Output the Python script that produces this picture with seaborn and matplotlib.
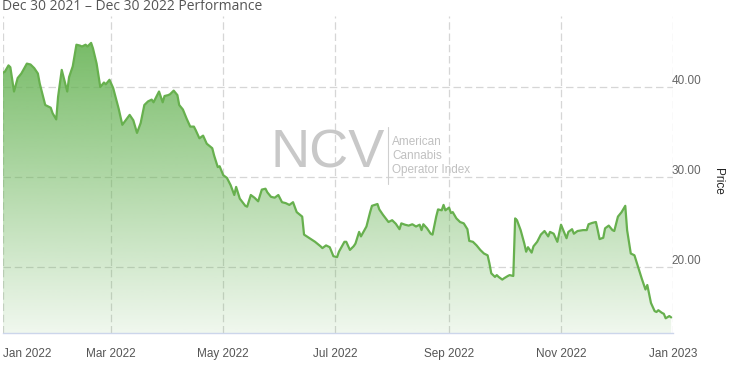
import numpy as np
import pandas as pd
import matplotlib
matplotlib.use("Agg")
import matplotlib.pyplot as plt
import matplotlib.dates as mdates
import seaborn as sns

# ---------------- data ----------------
title_text = "Dec 30 2021 \u2013 Dec 30 2022 Performance"
day_offsets = [0, 1, 3, 4, 6, 8, 10, 13, 15, 17, 19, 20, 23, 26, 27, 29, 30, 32, 33, 35,
               36, 38, 40, 42, 43, 45, 46, 48, 49, 51, 53, 55, 56, 58, 60, 63, 65, 69, 71, 73,
               75, 77, 79, 81, 82, 84, 85, 87, 88, 90, 91, 93, 95, 96, 98, 100, 102, 104, 105, 107,
               109, 111, 114, 115, 117, 118, 120, 122, 124, 126, 127, 129, 132, 133, 135, 137, 139, 141, 143, 144,
               146, 148, 150, 152, 154, 156, 158, 160, 163, 164, 167, 170, 173, 174, 176, 178, 180, 182, 183, 186,
               187, 189, 191, 192, 194, 195, 198, 200, 201, 204, 205, 207, 210, 212, 214, 216, 217, 219, 221, 223,
               225, 227, 228, 229, 231, 233, 234, 236, 237, 239, 240, 241, 243, 244, 245, 247, 249, 251, 253, 254,
               256, 258, 260, 262, 264, 265, 266, 268, 269, 270, 272, 273, 275, 276, 278, 279, 280, 282, 284, 285,
               286, 288, 289, 291, 293, 295, 297, 298, 300, 302, 304, 305, 307, 308, 310, 311, 313, 316, 318, 319,
               321, 323, 324, 325, 327, 328, 330, 332, 333, 335, 337, 339, 340, 342, 344, 346, 348, 350, 351, 353,
               355, 356, 357, 359, 360, 361, 363, 364]
prices = [41.6, 41.7, 42.4, 42.2, 39.5, 41.0, 41.5, 42.6, 42.5, 42.1, 41.5, 40.4, 38.0, 37.7, 37.1, 36.4, 38.9, 41.9, 41.1, 39.5,
          41.1, 42.3, 44.7, 44.6, 44.5, 44.7, 44.5, 44.9, 44.3, 42.6, 40.0, 40.5, 40.3, 40.8, 39.9, 37.6, 35.8, 36.9, 36.3, 34.9,
          36.0, 38.0, 38.4, 38.6, 38.3, 39.1, 39.5, 38.3, 39.0, 39.1, 39.2, 39.6, 39.1, 38.0, 37.5, 36.5, 35.6, 35.6, 35.2, 34.3,
          34.6, 33.7, 33.2, 32.4, 31.1, 31.2, 30.2, 29.9, 29.1, 28.0, 28.9, 27.6, 26.8, 26.7, 28.0, 27.7, 27.3, 28.6, 28.7, 28.3,
          27.8, 27.7, 28.0, 27.2, 27.1, 26.9, 27.2, 26.1, 25.6, 23.6, 23.2, 22.8, 22.3, 22.1, 22.4, 22.2, 21.2, 21.1, 21.7, 22.8,
          22.8, 21.9, 22.3, 22.6, 23.9, 23.4, 24.5, 26.1, 26.8, 27.0, 26.4, 25.8, 25.0, 25.2, 24.8, 24.2, 24.85, 24.7, 24.6, 24.75,
          24.5, 24.7, 24.1, 24.75, 24.3, 23.7, 23.6, 25.6, 26.4, 26.3, 26.9, 26.3, 26.6, 26.0, 26.1, 25.4, 25.0, 24.85, 24.2, 22.9,
          22.8, 22.4, 21.9, 21.5, 21.3, 20.4, 19.3, 18.9, 19.1, 18.9, 18.6, 18.75, 19.0, 19.1, 19.0, 25.4, 25.2, 24.1, 22.6, 21.7,
          22.2, 21.6, 22.3, 22.8, 23.6, 24.0, 23.4, 23.9, 23.7, 22.8, 24.7, 24.2, 23.2, 23.9, 24.2, 23.7, 24.0, 24.1, 24.1, 24.75,
          24.9, 25.0, 24.1, 23.1, 23.25, 24.3, 24.6, 24.1, 24.0, 25.6, 26.1, 26.8, 24.1, 21.5, 21.3, 20.0, 18.7, 17.5, 18.0, 16.0,
          15.1, 15.0, 15.2, 14.9, 14.8, 14.3, 14.55, 14.4]
x_tick_dates = ["2022-01-01", "2022-03-01", "2022-05-01", "2022-07-01", "2022-09-01", "2022-11-01", "2023-01-01"]
x_tick_labels = ["Jan 2022", "Mar 2022", "May 2022", "Jul 2022", "Sep 2022", "Nov 2022", "Jan 2023"]
y_ticks = [20, 30, 40]
y_tick_labels = ["20.00", "30.00", "40.00"]
y_label = "Price"
wm_big = "NCV"
wm_lines = ["American", "Cannabis", "Operator Index"]

# ---------------- figure ----------------
sns.set_theme(style="white")
plt.rcParams["font.family"] = ["Liberation Sans", "DejaVu Sans"]

W, H = 732, 371
fig = plt.figure(figsize=(W / 100, H / 100), dpi=100)
ax = fig.add_axes([3 / W, 38 / H, 670 / W, 317 / H])

start = pd.Timestamp("2022-01-01")
df = pd.DataFrame({"date": start + pd.to_timedelta(day_offsets, unit="D"), "price": prices})

y0, y1 = 12.667, 47.89
x0 = mdates.date2num(pd.Timestamp("2022-01-01"))
x1 = mdates.date2num(pd.Timestamp("2023-01-01"))

line_color = "#67b04e"
sns.lineplot(data=df, x="date", y="price", color=line_color, lw=1.6, ax=ax, zorder=4)

poly = ax.fill_between(df["date"], df["price"], y0, facecolor="none", edgecolor="none")
base = np.array([104, 180, 86]) / 255.0
grad = np.zeros((300, 1, 4))
grad[:, 0, :3] = base
grad[:, 0, 3] = np.linspace(0.97, 0.10, 300)
im = ax.imshow(grad, aspect="auto", extent=[x0, x1, y0, y1], origin="upper",
               zorder=2, interpolation="bilinear")
im.set_clip_path(poly.get_paths()[0], transform=ax.transData)

ax.set_xlim(x0, x1)
ax.set_ylim(y0, y1)

ax.set_xticks(pd.to_datetime(x_tick_dates))
ax.set_xticklabels(x_tick_labels)
ax.set_yticks(y_ticks)
ax.set_yticklabels(y_tick_labels)
ax.set_xlabel("")
ax.set_ylabel("")

ax.grid(True, color="#d6d6d6", linestyle=(0, (6, 3)), lw=0.9, zorder=1)
ax.set_axisbelow(True)

for s in ["top", "left", "right"]:
    ax.spines[s].set_visible(False)
ax.spines["bottom"].set_color("#ccd6eb")
ax.spines["bottom"].set_linewidth(1.0)

ax.tick_params(axis="x", direction="out", length=7, width=0.8, color="#ccd6eb",
               labelcolor="#555555", labelsize=8.5, pad=3.5)
xl = ax.get_xticklabels()
xl[0].set_ha("left")
xl[-1].set_ha("center")

ax.yaxis.tick_right()
ax.tick_params(axis="y", length=0, pad=-1, labelsize=8.5, labelcolor="#666666")
for lbl in ax.get_yticklabels():
    lbl.set_va("bottom")

fig.text(718 / W, 1 - 181 / H, y_label, rotation=270, ha="center", va="center",
         fontsize=8.5, color="#222222")
fig.text(2 / W, 1 - 7 / H, title_text, ha="left", va="center", fontsize=10,
         color="#555555", family=["Open Sans", "DejaVu Sans"])

# watermark
fig.text(327.5 / W, 1 - 153.5 / H, wm_big, ha="center", va="center", fontsize=39,
         color="#c8c8c8", family=["Liberation Sans", "DejaVu Sans"], zorder=3)
fig.add_artist(matplotlib.lines.Line2D([388 / W, 388 / W], [1 - 127 / H, 1 - 184 / H],
                                       color="#cfcfcf", lw=0.8))
for i, t in enumerate(wm_lines):
    fig.text(392 / W, 1 - (142 + 14 * i) / H, t, ha="left", va="center", fontsize=8.5,
             color="#c0c0c0")

fig.savefig("out.png", dpi=100)
